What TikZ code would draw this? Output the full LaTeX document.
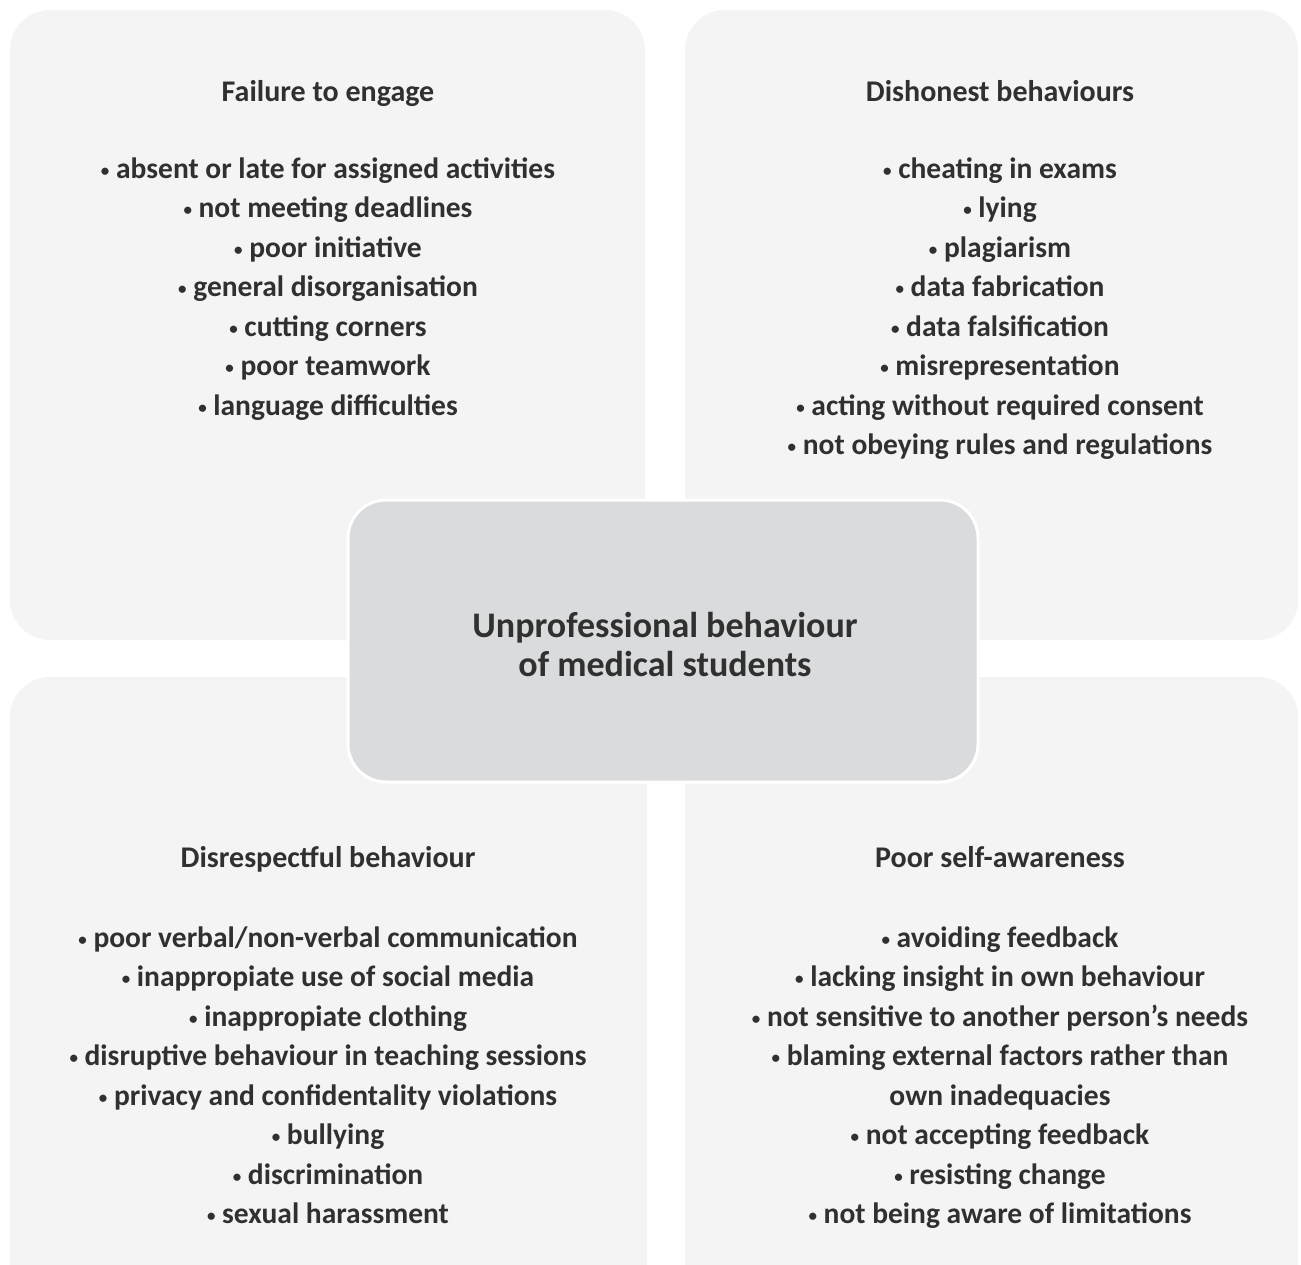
\documentclass[tikz,border=0pt]{standalone}
\usepackage{fontspec}
\setmainfont{Carlito}
\usetikzlibrary{positioning}
\definecolor{panelgray}{HTML}{F4F4F4}
\definecolor{hubgray}{HTML}{D9DBDD}
\definecolor{inkgray}{HTML}{303030}
\newcommand{\bul}{\raisebox{2pt}{\fontsize{17}{17}\selectfont •}}
\begin{document}
\begin{tikzpicture}[x=1pt,y=-1pt,node distance=50pt,
    panel/.style={rectangle,rounded corners=40pt,fill=panelgray,inner sep=0pt},
    heading/.style={text=inkgray,inner sep=0pt,text height=21pt,text depth=6pt,
      anchor=base,font=\bfseries\fontsize{30}{36}\selectfont},
    items/.style={text=inkgray,inner sep=0pt,align=center,
      font=\bfseries\fontsize{29.5}{39.5}\selectfont}]
  \useasboundingbox[fill=white] (0,0) rectangle (1301,1264);
  % panels
  \node[panel,minimum width=635pt,minimum height=630pt] (engage) at (327.5,325) {};
  \node[panel,minimum width=613pt,minimum height=630pt] (dishonest) at (991.5,325) {};
  \node[panel,minimum width=637pt,minimum height=640pt] (respect) at (328.5,997) {};
  \node[panel,minimum width=613pt,minimum height=640pt] (aware) at (991.5,997) {};
  % headings
  \node[heading] (engage-title) at (328,101) {Failure to engage};
  \node[heading] (dishonest-title) at (1000,101) {Dishonest behaviours};
  \node[heading] (respect-title) at (328,867) {Disrespectful behaviour};
  \node[heading] (aware-title) at (1000,867) {Poor self-awareness};
  % lists
  \node[items,below=of engage-title] (engage-list) {%
    \bul{} absent or late for assigned activities\\ \bul{} not meeting deadlines\\
    \bul{} poor initiative\\ \bul{} general disorganisation\\ \bul{} cutting corners\\
    \bul{} poor teamwork\\ \bul{} language difficulties};
  \node[items,below=of dishonest-title] (dishonest-list) {%
    \bul{} cheating in exams\\ \bul{} lying\\ \bul{} plagiarism\\ \bul{} data fabrication\\
    \bul{} data falsification\\ \bul{} misrepresentation\\
    \bul{} acting without required consent\\ \bul{} not obeying rules and regulations};
  \node[items,below=53pt of respect-title] (respect-list) {%
    \bul{} poor verbal/non-verbal communication\\ \bul{} inappropiate use of social media\\
    \bul{} inappropiate clothing\\ \bul{} disruptive behaviour in teaching sessions\\
    \bul{} privacy and confidentality violations\\ \bul{} bullying\\
    \bul{} discrimination\\ \bul{} sexual harassment};
  \node[items,below=53pt of aware-title] (aware-list) {%
    \bul{} avoiding feedback\\ \bul{} lacking insight in own behaviour\\
    \bul{} not sensitive to another person’s needs\\
    \bul{} blaming external factors rather than\\ own inadequacies\\
    \bul{} not accepting feedback\\ \bul{} resisting change\\
    \bul{} not being aware of limitations};
  % centre
  \node[rectangle,rounded corners=38pt,fill=hubgray,draw=white,line width=3pt,
    minimum width=630pt,minimum height=282pt] (hub) at (663,641) {};
  \node[anchor=north,inner sep=0pt,align=center,text=inkgray,
    font=\bfseries\fontsize{36}{39.5}\selectfont] (hub-label) at (665,612)
    {Unprofessional behaviour\\ of medical students};
\end{tikzpicture}
\end{document}
